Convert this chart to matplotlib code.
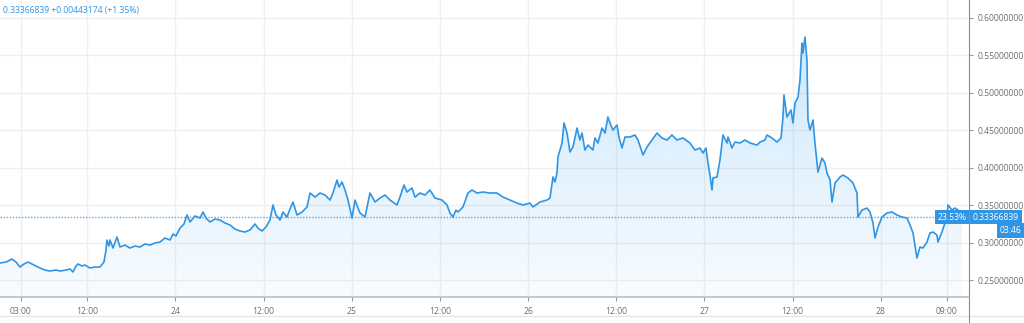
import numpy as np
import matplotlib
matplotlib.use('Agg')
import matplotlib.pyplot as plt
from matplotlib.patches import Polygon
from matplotlib.lines import Line2D

# hours since 23rd 00:00
hours = [0.14, 0.96, 1.78, 2.32, 2.86, 3.41, 3.95, 4.77, 5.59, 6.27, 6.95, 7.76, 8.31, 9.12, 9.67,
         10.08, 10.48, 10.76, 11.30, 11.71, 12.39, 13.07, 13.75, 14.29, 14.57, 14.70, 14.97, 15.11,
         15.52, 16.06, 16.47, 17.15, 17.83, 18.51, 19.19, 19.87, 20.55, 21.23, 21.91, 22.59, 23.28,
         23.68, 24.09, 24.64, 25.18, 25.59, 26.00, 26.68, 27.36, 27.77, 28.17, 28.72, 29.40, 30.08,
         30.76, 31.44, 32.12, 32.80, 33.48, 34.16, 34.84, 35.25, 35.79, 36.34, 36.88, 37.29, 37.70,
         38.24, 38.65, 39.19, 39.60, 40.01, 40.56, 41.24, 41.92, 42.33, 43.01, 43.69, 44.37, 45.05,
         45.45, 46.00, 46.27, 46.68, 47.09, 47.50, 48.04, 48.45, 48.86, 49.13, 49.81, 50.49, 51.17,
         51.85, 52.53, 53.21, 54.16, 54.57, 55.12, 55.52, 56.20, 56.61, 57.29, 57.97, 58.65, 59.33,
         60.29, 60.97, 61.37, 61.78, 62.19, 62.46, 63.14, 63.82, 64.37, 65.05, 65.86, 66.82, 67.77,
         68.58, 69.54, 70.49, 71.31, 72.26, 72.67, 73.62, 74.57, 74.98, 75.39, 75.66, 75.93, 76.07,
         76.62, 76.89, 77.30, 77.70, 78.11, 78.66, 79.06, 79.34, 79.74, 80.15, 80.83, 81.10, 81.51,
         82.06, 82.47, 82.87, 83.14, 83.55, 84.10, 84.37, 84.78, 85.19, 85.87, 86.55, 86.96, 87.64,
         88.18, 88.86, 89.54, 90.22, 90.90, 91.58, 92.26, 93.08, 94.03, 94.71, 95.39, 95.80, 96.21,
         96.48, 96.75, 97.03, 97.16, 97.71, 98.11, 98.52, 99.07, 99.20, 99.75, 100.16, 100.84,
         101.52, 102.20, 103.15, 103.56, 104.24, 104.51, 105.19, 105.87, 106.42, 106.69, 106.82,
         107.23, 107.78, 108.05, 108.32, 108.73, 109.00, 109.27, 109.41, 109.68, 109.95, 110.09,
         110.36, 110.77, 111.04, 111.45, 111.99, 112.40, 112.68, 113.09, 113.36, 113.77, 114.45,
         114.85, 115.53, 116.21, 116.76, 116.89, 117.44, 118.12, 118.53, 118.94, 119.21, 119.62,
         120.16, 120.84, 121.52, 122.20, 122.88, 123.56, 123.97, 124.38, 124.92, 125.33, 125.74,
         126.28, 126.69, 127.10, 127.64, 127.78, 128.32, 129.00, 129.14, 129.68, 130.09, 130.50,
         131.04]

prices = [.2727, .2740, .2780, .2740, .2673, .2714, .2740, .2700, .2660, .2633, .2620, .2633, .2620, .2633, .2647,
          .2607, .2687, .2714, .2687, .2700, .2660, .2673, .2673, .2740, .2901, .3034, .2954, .3034,
          .2927, .3074, .2941, .2967, .2927, .2954, .2941, .2981, .2967, .2994, .3007, .3061, .3034,
          .3114, .3088, .3194, .3248, .3368, .3275, .3355, .3328, .3408, .3328, .3275, .3315, .3301,
          .3261, .3235, .3181, .3154, .3141, .3168, .3248, .3194, .3154, .3208, .3301, .3502, .3368,
          .3301, .3408, .3341, .3448, .3542, .3368, .3408, .3475, .3662, .3608, .3662, .3635, .3568,
          .3662, .3836, .3742, .3809, .3702, .3568, .3328, .3568, .3461, .3395, .3341, .3662, .3542,
          .3595, .3635, .3568, .3502, .3608, .3769, .3675, .3729, .3608, .3662, .3635, .3702, .3595,
          .3568, .3502, .3395, .3341, .3435, .3408, .3475, .3662, .3702, .3662, .3675, .3662, .3662,
          .3608, .3568, .3528, .3502, .3528, .3475, .3542, .3568, .3595, .3876, .3809, .3929, .4143,
          .4330, .4597, .4463, .4210, .4276, .4530, .4370, .4463, .4236, .4303, .4236, .4397, .4330,
          .4530, .4463, .4677, .4597, .4503, .4570, .4410, .4263, .4410, .4410, .4437, .4370, .4170,
          .4276, .4370, .4463, .4397, .4370, .4437, .4370, .4397, .4330, .4236, .4263, .4196, .4263,
          .4063, .3902, .3702, .3862, .3876, .4103, .4437, .4330, .4410, .4263, .4343, .4330,
          .4370, .4330, .4303, .4343, .4370, .4437, .4397, .4343, .4397, .4677, .4971,
          .4677, .4771, .4597, .4864, .4944, .5171, .5666, .5532, .5746, .5439, .4637,
          .4503, .4637, .4330, .3942, .4129, .4063, .3929, .3836, .3542, .3796, .3876,
          .3902, .3862, .3796, .3662, .3341, .3435, .3461, .3408, .3261, .3061, .3208,
          .3341, .3395, .3408, .3368, .3341, .3328, .3235, .3128, .2794, .2941, .2927,
          .3007, .3128, .3141, .3101, .3007, .3141, .3341, .3502, .3435, .3461, .3435,
          .33366839]

xtick_pos = [3, 12, 24, 36, 48, 60, 72, 84, 96, 108, 120, 129]
xtick_labels = ['03:00', '12:00', '24', '12:00', '25', '12:00', '26', '12:00', '27', '12:00', '28', '09:00']
ytick_pos = [0.25, 0.30, 0.35, 0.40, 0.45, 0.50, 0.55, 0.60]

last_price = 0.33366839
header = '0.33366839 +0.00443174 (+1.35%)'
pct_label = '23.53%'
countdown = '03:46'

blue = '#2f95e4'
grid_c = '#efefef'
text_c = '#707070'
fs = 6.2
plt.rcParams['font.family'] = ['Open Sans', 'DejaVu Sans']

fig = plt.figure(figsize=(10.24, 3.23), dpi=100)
ax = fig.add_axes([0, 26 / 323, 969 / 1024, 297 / 323])
ylo, yhi = 0.2273, 0.624
ax.set_xlim(0.143, 132.0)
ax.set_ylim(ylo, yhi)

ax.plot(hours, prices, color=blue, lw=1.2, zorder=4, solid_joinstyle='round')

# gradient area under the line
verts = [(hours[0], ylo)] + list(zip(hours, prices)) + [(hours[-1], ylo)]
poly = Polygon(verts, closed=True, facecolor='none', edgecolor='none')
ax.add_patch(poly)
grad = np.zeros((256, 1, 4))
grad[:, 0, 0] = 33 / 255
grad[:, 0, 1] = 150 / 255
grad[:, 0, 2] = 243 / 255
grad[:, 0, 3] = np.linspace(0.24, 0.03, 256)
im = ax.imshow(grad, aspect='auto', extent=[0.143, 132.0, ylo, 0.6], origin='upper', zorder=2)
im.set_clip_path(poly)

ax.axhline(last_price, color='#5aa8e6', lw=1.0, ls=(0, (1, 1.2)), zorder=3)

ax.set_xticks(xtick_pos)
ax.set_xticklabels(xtick_labels)
ax.yaxis.tick_right()
ax.set_yticks(ytick_pos)
ax.set_yticklabels([f'{v:.8f}' for v in ytick_pos])
ax.grid(True, color=grid_c, lw=1)
ax.set_axisbelow(True)
ax.tick_params(axis='both', colors='#9a9a9a', labelcolor=text_c, labelsize=fs, length=3, width=0.8)
ax.tick_params(axis='x', pad=4)
ax.tick_params(axis='y', pad=3)
for s in ['left', 'top']:
    ax.spines[s].set_visible(False)
ax.spines['right'].set_color('#8c8c8c')
ax.spines['bottom'].set_color('#bdbdbd')
ax.spines['bottom'].set_linewidth(1.2)

# extra lines below the time scale
fig.add_artist(Line2D([0, 1], [7 / 323, 7 / 323], color='#e6e6e6', lw=1))
fig.add_artist(Line2D([969 / 1024, 969 / 1024], [0, 26 / 323], color='#8c8c8c', lw=0.8))

fig.text(3 / 1024, 1 - 10 / 323, header, color=blue, fontsize=fs, va='center', ha='left')

trans = ax.get_yaxis_transform()
ax.text(1.004, last_price, f'{last_price:.8f}', transform=trans, ha='left', va='center',
        color='white', fontsize=fs, clip_on=False, zorder=6,
        bbox=dict(boxstyle='square,pad=0.3', fc=blue, ec='none'))
ax.text(0.997, last_price, pct_label, transform=trans, ha='right', va='center',
        color='white', fontsize=fs, clip_on=False, zorder=6,
        bbox=dict(boxstyle='square,pad=0.3', fc=blue, ec='none'))
ax.text(1.054, last_price - 0.0175, countdown, transform=trans, ha='right', va='center',
        color='white', fontsize=fs, clip_on=False, zorder=6,
        bbox=dict(boxstyle='square,pad=0.3', fc=blue, ec='none'))

fig.savefig('out.png', dpi=100, facecolor='white')
